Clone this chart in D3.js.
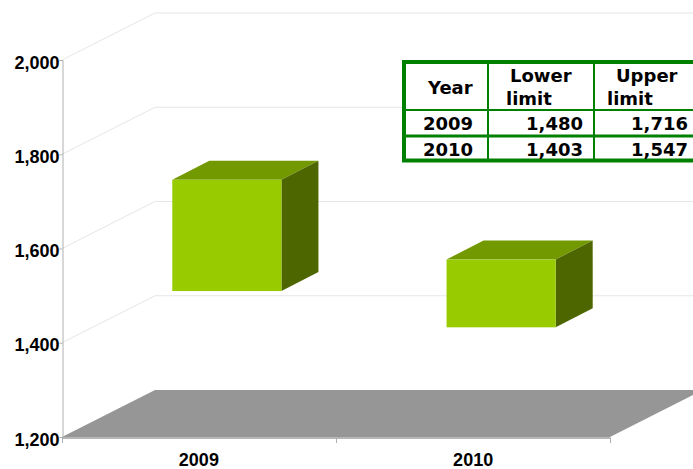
<!DOCTYPE html>
<html lang="en">
<head>
  <meta charset="UTF-8">
  <title>Lower and upper limit by year</title>
  <script src="https://d3js.org/d3.v7.min.js"></script>
  <style>
    html, body { margin: 0; padding: 0; background: #fff; overflow: hidden; }
    svg { display: block; }
    .axis-label { font-family: "Liberation Sans", Arial, sans-serif; font-weight: bold; font-size: 18px; fill: #000; }
    .tbl { font-family: "DejaVu Sans", Verdana, sans-serif; font-weight: bold; font-size: 18px; fill: #000; }
  </style>
</head>
<body>
  <svg width="693" height="469"></svg>
<script>
  const years = ['2009', '2010'];
  const lowerLimit = [1480, 1403];
  const upperLimit = [1716, 1547];
  const yTicks = [1200, 1400, 1600, 1800, 2000];

  const svg = d3.select('svg');
  const fmt = d3.format(',');

  const xScale = d3.scaleBand().domain(years).range([62, 610]).paddingInner(0.602).paddingOuter(0.3);
  const yScale = d3.scaleLinear().domain([1200, 2000]).range([437, 60]);

  // fake 3d offsets
  const wall = { dx: 93, dy: -47 };
  const barFront = { dx: 28, dy: -14 };
  const barSide = { dx: 37, dy: -19 };

  const poly = pts => pts.map(p => p.join(',')).join(' ');

  /**
   * walls
   */
  const x0 = xScale.range()[0];
  const x1 = xScale.range()[1];

  svg.append('g').selectAll('polyline')
    .data(yTicks.slice(1))
    .join('polyline')
    .attr('fill', 'none')
    .attr('stroke', '#e6e6e6')
    .attr('points', d => poly([[x0, yScale(d)], [x0 + wall.dx, yScale(d) + wall.dy], [x1 + wall.dx, yScale(d) + wall.dy]]));

  // floor
  svg.append('polygon')
    .attr('fill', '#969696')
    .attr('points', poly([
      [x0, yScale(1200)],
      [x0 + wall.dx, yScale(1200) + wall.dy],
      [x1 + wall.dx, yScale(1200) + wall.dy],
      [x1, yScale(1200)]
    ]));

  /**
   * axes
   */
  const yAxis = svg.append('g')
    .attr('transform', `translate(${x0 + 0.5},0)`)
    .call(d3.axisLeft(yScale).tickValues(yTicks).tickFormat(fmt).tickSize(3).tickPadding(0));
  yAxis.select('.domain').attr('stroke', '#b0b0b0');
  yAxis.selectAll('.tick line').attr('stroke', '#b0b0b0');
  yAxis.selectAll('text').attr('class', 'axis-label').attr('font-family', null).attr('font-size', null).attr('dy', '0.45em');

  const xAxis = svg.append('g')
    .attr('transform', `translate(0,${yScale(1200) + 0.5})`)
    .call(d3.axisBottom(xScale).tickSize(0).tickPadding(16));
  xAxis.select('.domain').attr('stroke', '#6e6e6e');
  xAxis.selectAll('text').attr('class', 'axis-label').attr('font-family', null).attr('font-size', null);

  // category separators under the x axis
  svg.append('g').selectAll('line')
    .data([...years.map(d => xScale(d) - xScale.step() * xScale.paddingInner() / 2), x1])
    .join('line')
    .attr('x1', d => Math.round(d) + 0.5)
    .attr('x2', d => Math.round(d) + 0.5)
    .attr('y1', yScale(1200) + 1)
    .attr('y2', yScale(1200) + 6)
    .attr('stroke', '#b0b0b0');

  /**
   * boxes
   */
  const bars = svg.append('g').selectAll('g')
    .data(years)
    .join('g');

  const barLeft = d => xScale(d) + barFront.dx;
  const barRight = d => barLeft(d) + xScale.bandwidth();
  const barTop = (d, i) => yScale(upperLimit[i]) + barFront.dy;
  const barBottom = (d, i) => yScale(lowerLimit[i]) + barFront.dy;

  bars.append('polygon')
    .attr('fill', '#739900')
    .attr('points', (d, i) => poly([
      [barLeft(d), barTop(d, i)],
      [barLeft(d) + barSide.dx, barTop(d, i) + barSide.dy],
      [barRight(d) + barSide.dx, barTop(d, i) + barSide.dy],
      [barRight(d), barTop(d, i)]
    ]));

  bars.append('polygon')
    .attr('fill', '#4d6600')
    .attr('points', (d, i) => poly([
      [barRight(d), barTop(d, i)],
      [barRight(d) + barSide.dx, barTop(d, i) + barSide.dy],
      [barRight(d) + barSide.dx, barBottom(d, i) + barSide.dy],
      [barRight(d), barBottom(d, i)]
    ]));

  bars.append('rect')
    .attr('fill', '#99cc00')
    .attr('x', barLeft)
    .attr('y', barTop)
    .attr('width', xScale.bandwidth())
    .attr('height', (d, i) => barBottom(d, i) - barTop(d, i));

  /**
   * data table
   */
  const tableColor = '#008000';
  const table = svg.append('g');

  table.append('rect')
    .attr('x', 404).attr('y', 62).attr('width', 300).attr('height', 98.5)
    .attr('fill', '#fff').attr('stroke', tableColor).attr('stroke-width', 4);

  table.selectAll('.row-line')
    .data([110, 136])
    .join('line')
    .attr('class', 'row-line')
    .attr('x1', 404).attr('x2', 693)
    .attr('y1', d => d).attr('y2', d => d)
    .attr('stroke', tableColor).attr('stroke-width', d => d === 110 ? 2 : 3);

  table.selectAll('.col-line')
    .data([488, 594])
    .join('line')
    .attr('class', 'col-line')
    .attr('x1', d => d).attr('x2', d => d)
    .attr('y1', 62).attr('y2', 160)
    .attr('stroke', tableColor).attr('stroke-width', 2);

  const tblText = (x, y, s, anchor) => table.append('text')
    .attr('class', 'tbl').attr('x', x).attr('y', y)
    .attr('text-anchor', anchor || 'start').text(s);

  tblText(428, 94, 'Year');
  tblText(510, 82, 'Lower');
  tblText(506, 105, 'limit');
  tblText(616, 82, 'Upper');
  tblText(607, 105, 'limit');

  years.forEach((d, i) => {
    const y = [130, 156][i];
    tblText(473, y, d, 'end');
    tblText(583, y, fmt(lowerLimit[i]), 'end');
    tblText(688, y, fmt(upperLimit[i]), 'end');
  });
</script>
</body>
</html>
